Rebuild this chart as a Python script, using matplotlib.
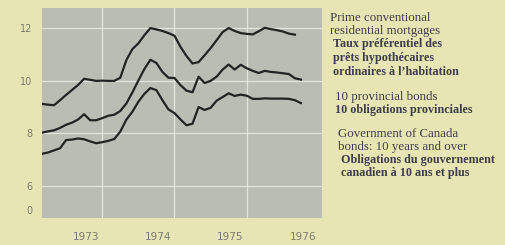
import matplotlib
matplotlib.use("Agg")
import matplotlib.pyplot as plt
import numpy as np

# monthly yields, month 0 = January 1973
mortgage = [9.12, 9.09, 9.07, 9.26, 9.46, 9.65, 9.84, 10.07, 10.03, 9.99, 10.0, 9.99,
            9.99, 10.11, 10.77, 11.19, 11.41, 11.72, 11.99, 11.94, 11.88, 11.80, 11.70, 11.28,
            10.93, 10.65, 10.70, 10.96, 11.23, 11.53, 11.84, 11.99, 11.88, 11.80, 11.77, 11.75,
            11.87, 12.0, 11.95, 11.91, 11.86, 11.78, 11.74]
provincial = [8.03, 8.08, 8.12, 8.21, 8.33, 8.41, 8.53, 8.73, 8.50, 8.50, 8.58, 8.67,
              8.71, 8.85, 9.13, 9.55, 10.0, 10.44, 10.79, 10.67, 10.33, 10.11, 10.10, 9.83,
              9.62, 9.56, 10.15, 9.91, 9.99, 10.15, 10.42, 10.61, 10.42, 10.60, 10.47, 10.37,
              10.29, 10.37, 10.33, 10.31, 10.28, 10.25, 10.09, 10.04]
canada = [7.23, 7.28, 7.36, 7.44, 7.75, 7.77, 7.81, 7.78, 7.70, 7.63, 7.67, 7.72,
          7.79, 8.07, 8.52, 8.82, 9.20, 9.50, 9.72, 9.64, 9.26, 8.91, 8.77, 8.53,
          8.31, 8.37, 9.00, 8.89, 8.97, 9.24, 9.38, 9.52, 9.42, 9.47, 9.43, 9.31,
          9.31, 9.33, 9.32, 9.32, 9.32, 9.31, 9.26, 9.15]
first_month = 2
years = ["1973", "1974", "1975", "1976"]
ytick_vals = [6, 8, 10, 12]

bg = "#e7e5b4"
panel = "#b9bdb3"
ink = "#232323"

fig = plt.figure(figsize=(5.06, 2.45), dpi=100, facecolor=bg)
ax = fig.add_axes([42 / 506, 1 - 218 / 245, 280 / 506, 210 / 245])
ax.set_facecolor(panel)
for s in ax.spines.values():
    s.set_visible(False)

# white grid
for v in ytick_vals:
    ax.axhline(v, color="#e2e5dd", lw=0.9, zorder=1)
for i in range(1, len(years)):
    ax.axvline(12 * i, color="#e2e5dd", lw=0.9, zorder=1)

for series in (mortgage, provincial, canada):
    x = np.arange(first_month, first_month + len(series))
    ax.plot(x, series, color=ink, lw=1.6, zorder=3, solid_joinstyle="round")

ax.set_xlim(2, 48.5)
ax.set_ylim(4.8, 12.75)
ax.set_yticks([5.1] + ytick_vals)
ax.set_yticklabels(["0"] + [str(v) for v in ytick_vals])
ax.set_xticks([12 * i + 9.3 for i in range(len(years))])
ax.set_xticklabels(years)
ax.tick_params(length=0, colors="#7c7c70", labelsize=7)
ax.tick_params(axis="y", pad=7)
ax.tick_params(axis="x", pad=10, labelsize=7.5)

# legend text, English regular / French bold
legend = [
    (330, 18, "Prime conventional", "normal"),
    (330, 31, "residential mortgages", "normal"),
    (333, 44, "Taux préférentiel des", "bold"),
    (333, 58, "prêts hypothécaires", "bold"),
    (333, 72, "ordinaires à l’habitation", "bold"),
    (335, 97, "10 provincial bonds", "normal"),
    (335, 110, "10 obligations provinciales", "bold"),
    (338, 134, "Government of Canada", "normal"),
    (338, 147, "bonds: 10 years and over", "normal"),
    (341, 160, "Obligations du gouvernement", "bold"),
    (341, 173, "canadien à 10 ans et plus", "bold"),
]
for x, y, t, w in legend:
    fig.text(x / 506, 1 - y / 245, t, family="Liberation Serif",
             fontsize=9.3 if w == "normal" else 8.7,
             fontweight=w, color="#3e3e4c", va="center", ha="left")

fig.savefig("out.png", dpi=100, facecolor=bg)
